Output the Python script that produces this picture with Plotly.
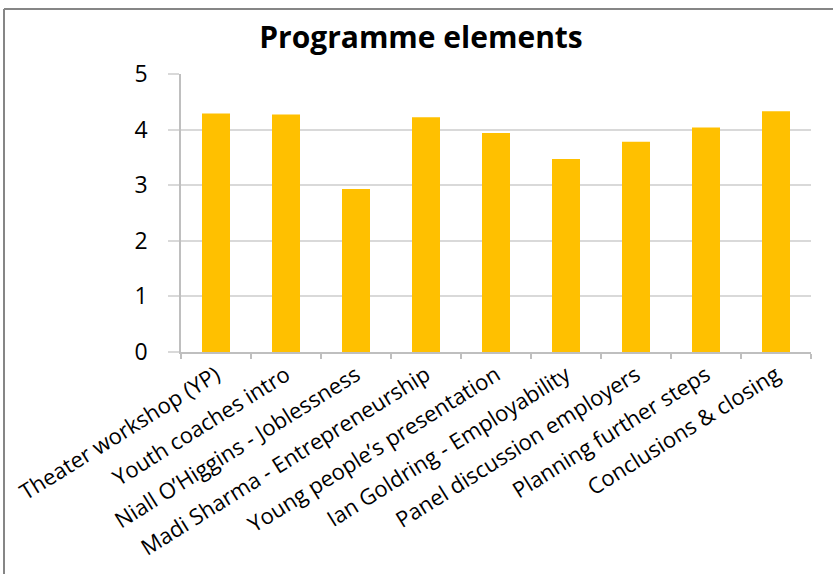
import plotly.graph_objects as go

categories = [
    "Theater workshop (YP)",
    "Youth coaches intro",
    "Niall O\u2019Higgins - Joblessness",
    "Madi Sharma - Entrepreneurship",
    "Young people\u2019s presentation",
    "Ian Goldring - Employability",
    "Panel discussion employers",
    "Planning further steps",
    "Conclusions & closing",
]
values = [4.29, 4.27, 2.93, 4.22, 3.94, 3.47, 3.78, 4.04, 4.33]
y_ticks = [0, 1, 2, 3, 4, 5]

FONT = "Open Sans"

fig = go.Figure(
    go.Bar(
        x=categories,
        y=values,
        marker=dict(color="#FFC000", line=dict(width=0)),
        width=0.4,
    )
)

L, R, T, B = 181, 22, 74, 222
W, H = 833, 574
pw, ph = W - L - R, H - T - B

def px_x(p):
    return (p - L) / pw

def px_y(p):
    return (H - B - p) / ph

fig.update_layout(
    width=W,
    height=H,
    margin=dict(l=L, r=R, t=T, b=B),
    paper_bgcolor="white",
    plot_bgcolor="white",
    showlegend=False,
    title=dict(
        text="<b>Programme elements</b>",
        x=px_x(421), xref="paper", xanchor="center",
        y=1 - 37 / H, yref="container", yanchor="middle",
        font=dict(family=FONT, size=30, color="black"),
    ),
    font=dict(family=FONT, color="black"),
    bargap=0.6,
    shapes=[
        dict(type="line", xref="paper", yref="paper",
             x0=px_x(4), x1=px_x(840), y0=px_y(9), y1=px_y(9),
             line=dict(color="#868686", width=2)),
        dict(type="line", xref="paper", yref="paper",
             x0=px_x(4), x1=px_x(4), y0=px_y(9), y1=px_y(590),
             line=dict(color="#868686", width=2)),
    ],
)

fig.update_yaxes(
    range=[0, 5],
    tickvals=y_ticks,
    showgrid=True,
    gridcolor="#d9d9d9",
    gridwidth=1.5,
    zeroline=False,
    showline=True,
    linecolor="#bfbfbf",
    linewidth=1.5,
    ticks="outside",
    ticklen=11,
    tickcolor="#d9d9d9",
    tickwidth=1.5,
    ticklabelstandoff=16,
    tickfont=dict(family=FONT, size=23, color="black"),
)
fig.update_xaxes(
    showline=True,
    linecolor="#bfbfbf",
    linewidth=1.5,
    ticks="outside",
    tickson="boundaries",
    ticklen=5,
    tickcolor="#bfbfbf",
    tickwidth=1.5,
    tickangle=-32,
    tickfont=dict(family=FONT, size=22, color="black"),
)

fig.write_html("out.html")
